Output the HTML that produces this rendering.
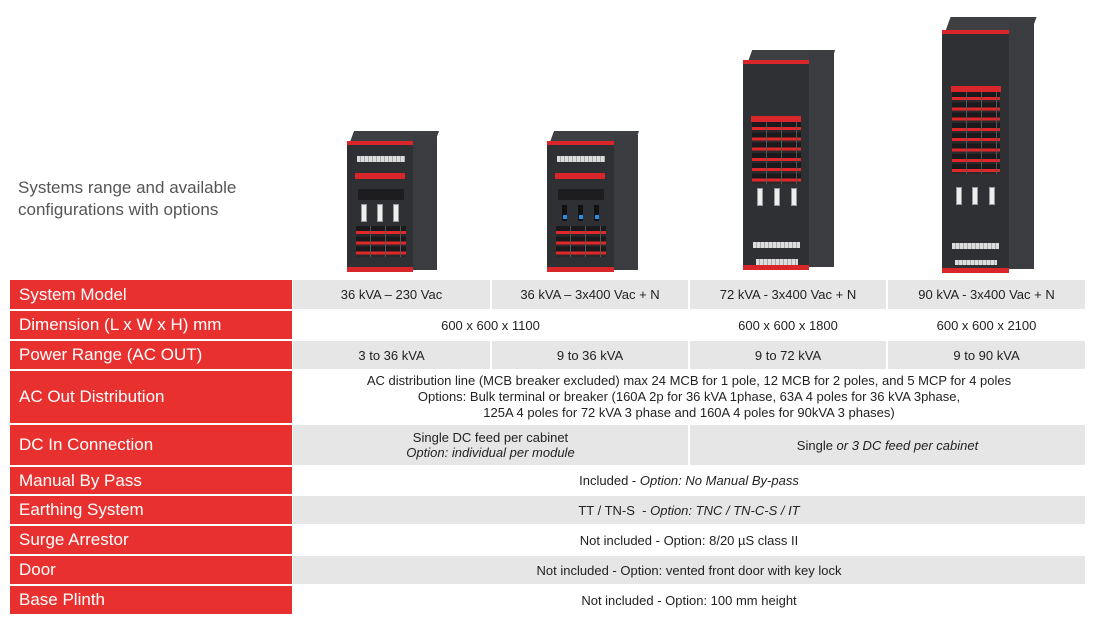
<!DOCTYPE html>
<html><head><meta charset="utf-8"><style>
*{margin:0;padding:0;box-sizing:border-box}
body{width:1098px;height:620px;background:#fff;position:relative;overflow:hidden;font-family:"Liberation Sans",Arial,sans-serif}
.a{position:absolute}
.lab{position:absolute;left:10px;width:282px;background:#e8302f;color:#fff;font-size:17px;padding-left:9px;display:flex;align-items:center}
.c{position:absolute;display:flex;align-items:center;justify-content:center;text-align:center;font-size:13px;color:#222;line-height:15px}
.g{background:#e6e6e7}
.cab{position:absolute;background:#2e3033}
.side{position:absolute;background:#3a3c40}
.top{position:absolute;background:#3d3f43}
.red{position:absolute;background:#d9262a}
.mod{position:absolute;background:repeating-linear-gradient(to right,transparent 0 14px,#555 14px 15px),repeating-linear-gradient(to bottom,#1a1a1c 0 5px,#e0282a 5px 8px,#2a2a2c 8px 10.3px)}
.bar{position:absolute;background:repeating-linear-gradient(to right,#ddd 0 3px,#aaa 3px 4px)}
.sw{position:absolute;width:6px;height:18px;background:#eee;border:1px solid #999}
</style></head><body>
<div class="a" style="left:18px;top:177px;font-size:17px;color:#555;line-height:22px">Systems range and available<br>configurations with options</div>

<!-- cabinet 1 -->
<div class="top" style="left:352px;top:131px;width:85px;height:11px;transform:skewX(-20deg)"></div>
<div class="side" style="left:413px;top:135px;width:24px;height:135px"></div>
<div class="cab" style="left:347px;top:141px;width:66px;height:131px"></div>
<div class="red" style="left:347px;top:141px;width:66px;height:4px"></div>
<div class="red" style="left:347px;top:267px;width:66px;height:5px"></div>
<div class="bar" style="left:357px;top:156px;width:48px;height:6px"></div>
<div class="red" style="left:355px;top:173px;width:50px;height:6px"></div>
<div class="a" style="left:358px;top:189px;width:46px;height:11px;background:#1d1d1f"></div>
<div class="sw" style="left:361px;top:204px"></div><div class="sw" style="left:377px;top:204px"></div><div class="sw" style="left:393px;top:204px"></div>
<div class="mod" style="left:356px;top:226px;width:50px;height:31px"></div>

<!-- cabinet 2 -->
<div class="top" style="left:552px;top:131px;width:85px;height:11px;transform:skewX(-20deg)"></div>
<div class="side" style="left:614px;top:135px;width:24px;height:135px"></div>
<div class="cab" style="left:547px;top:141px;width:67px;height:131px"></div>
<div class="red" style="left:547px;top:141px;width:67px;height:4px"></div>
<div class="red" style="left:547px;top:267px;width:67px;height:5px"></div>
<div class="bar" style="left:557px;top:156px;width:48px;height:6px"></div>
<div class="red" style="left:555px;top:173px;width:50px;height:6px"></div>
<div class="a" style="left:558px;top:189px;width:46px;height:11px;background:#1d1d1f"></div>
<div class="a" style="left:562px;top:205px;width:5px;height:16px;background:#111"></div><div class="a" style="left:563px;top:215px;width:4px;height:4px;background:#2a8ce0"></div>
<div class="a" style="left:578px;top:205px;width:5px;height:16px;background:#111"></div><div class="a" style="left:579px;top:215px;width:4px;height:4px;background:#2a8ce0"></div>
<div class="a" style="left:594px;top:205px;width:5px;height:16px;background:#111"></div><div class="a" style="left:595px;top:215px;width:4px;height:4px;background:#2a8ce0"></div>
<div class="mod" style="left:556px;top:226px;width:50px;height:31px"></div>

<!-- cabinet 3 -->
<div class="top" style="left:750px;top:50px;width:83px;height:12px;transform:skewX(-20deg)"></div>
<div class="side" style="left:809px;top:53px;width:25px;height:214px"></div>
<div class="cab" style="left:743px;top:60px;width:66px;height:210px"></div>
<div class="red" style="left:743px;top:60px;width:66px;height:4px"></div>
<div class="red" style="left:743px;top:265px;width:66px;height:5px"></div>
<div class="red" style="left:751px;top:116px;width:50px;height:6px"></div>
<div class="mod" style="left:752px;top:122px;width:49px;height:62px"></div>
<div class="sw" style="left:757px;top:188px"></div><div class="sw" style="left:774px;top:188px"></div><div class="sw" style="left:791px;top:188px"></div>
<div class="bar" style="left:753px;top:242px;width:47px;height:6px"></div>
<div class="bar" style="left:756px;top:259px;width:42px;height:6px"></div>

<!-- cabinet 4 -->
<div class="top" style="left:948px;top:17px;width:86px;height:14px;transform:skewX(-20deg)"></div>
<div class="side" style="left:1009px;top:21px;width:25px;height:248px"></div>
<div class="cab" style="left:942px;top:31px;width:67px;height:241px"></div>
<div class="red" style="left:942px;top:30px;width:67px;height:4px"></div>
<div class="red" style="left:942px;top:268px;width:67px;height:5px"></div>
<div class="red" style="left:951px;top:86px;width:50px;height:6px"></div>
<div class="mod" style="left:952px;top:92px;width:48px;height:82px"></div>
<div class="sw" style="left:956px;top:187px"></div><div class="sw" style="left:972px;top:187px"></div><div class="sw" style="left:989px;top:187px"></div>
<div class="bar" style="left:952px;top:243px;width:47px;height:6px"></div>
<div class="bar" style="left:955px;top:260px;width:42px;height:5px"></div>

<!-- table -->
<div class="lab" style="top:280px;height:29px">System Model</div>
<div class="c g" style="left:293px;top:280px;width:197px;height:29px">36 kVA – 230 Vac</div>
<div class="c g" style="left:492px;top:280px;width:196px;height:29px">36 kVA – 3x400 Vac + N</div>
<div class="c g" style="left:690px;top:280px;width:196px;height:29px">72 kVA - 3x400 Vac + N</div>
<div class="c g" style="left:888px;top:280px;width:197px;height:29px">90 kVA - 3x400 Vac + N</div>

<div class="lab" style="top:311px;height:28px">Dimension (L x W x H) mm</div>
<div class="c" style="left:293px;top:311px;width:395px;height:28px">600 x 600 x 1100</div>
<div class="c" style="left:690px;top:311px;width:196px;height:28px">600 x 600 x 1800</div>
<div class="c" style="left:888px;top:311px;width:197px;height:28px">600 x 600 x 2100</div>

<div class="lab" style="top:341px;height:28px">Power Range (AC OUT)</div>
<div class="c g" style="left:293px;top:341px;width:197px;height:28px">3 to 36 kVA</div>
<div class="c g" style="left:492px;top:341px;width:196px;height:28px">9 to 36 kVA</div>
<div class="c g" style="left:690px;top:341px;width:196px;height:28px">9 to 72 kVA</div>
<div class="c g" style="left:888px;top:341px;width:197px;height:28px">9 to 90 kVA</div>

<div class="lab" style="top:371px;height:52px">AC Out Distribution</div>
<div class="c" style="left:293px;top:371px;width:792px;height:52px;line-height:16px"><div>AC distribution line (MCB breaker excluded) max 24 MCB for 1 pole, 12 MCB for 2 poles, and 5 MCP for 4 poles<br>Options: Bulk terminal or breaker (160A 2p for 36 kVA 1phase, 63A 4 poles for 36 kVA 3phase,<br>125A 4 poles for 72 kVA 3 phase and 160A 4 poles for 90kVA 3 phases)</div></div>

<div class="lab" style="top:425px;height:40px">DC In Connection</div>
<div class="c g" style="left:293px;top:425px;width:395px;height:40px"><div>Single DC feed per cabinet<br><i>Option: individual per module</i></div></div>
<div class="c g" style="left:690px;top:425px;width:395px;height:40px"><div>Single <i>or 3 DC feed per cabinet</i></div></div>

<div class="lab" style="top:467px;height:27px">Manual By Pass</div>
<div class="c" style="left:293px;top:467px;width:792px;height:27px"><div>Included - <i>Option: No Manual By-pass</i></div></div>

<div class="lab" style="top:496px;height:28px">Earthing System</div>
<div class="c g" style="left:293px;top:496px;width:792px;height:28px"><div>TT / TN-S &nbsp;- <i>Option: TNC / TN-C-S / IT</i></div></div>

<div class="lab" style="top:526px;height:28px">Surge Arrestor</div>
<div class="c" style="left:293px;top:526px;width:792px;height:28px">Not included - Option: 8/20 µS class II</div>

<div class="lab" style="top:556px;height:28px">Door</div>
<div class="c g" style="left:293px;top:556px;width:792px;height:28px">Not included - Option: vented front door with key lock</div>

<div class="lab" style="top:586px;height:28px">Base Plinth</div>
<div class="c" style="left:293px;top:586px;width:792px;height:28px">Not included - Option: 100 mm height</div>
</body></html>
